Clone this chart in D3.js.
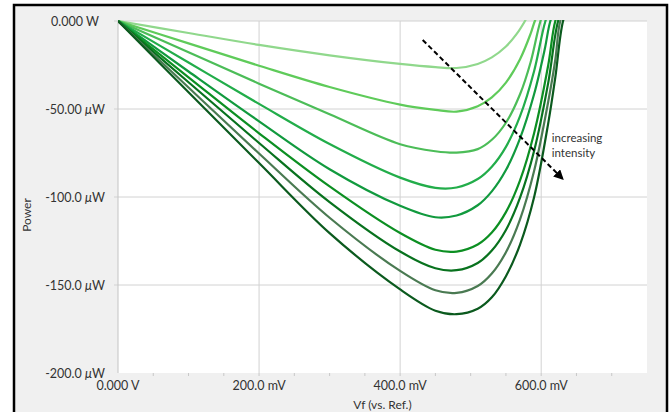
<!DOCTYPE html>
<html>
<head>
<meta charset="utf-8">
<script src="https://cdn.jsdelivr.net/npm/d3@7/dist/d3.min.js"></script>
<style>
  body { margin: 0; background: #fff; }
  text { font-family: Lato, "DejaVu Sans", sans-serif; fill: #333; }
</style>
</head>
<body>
<svg id="chart" width="672" height="412"></svg>
<script>
// voltage (mV) sample points shared by every curve
var volts = [0, 100, 200, 300, 400, 450, 480, 510, 530, 550, 570, 590, 610];

// power (uW) for each light intensity, weakest to strongest, read at volts[]
var p1 = [0, -6.8, -13.6, -19.5, -24.4, -26.2, -26.7, -24.4, -20.7, -14.5];
var p2 = [0, -12.7, -25.4, -37.5, -47.5, -50.5, -51.5, -48.4, -43.4, -35, -21.7];
var p3 = [0, -17.8, -35.6, -53, -70, -74, -74.8, -72.8, -67.5, -57.8, -41.6];
var p4 = [0, -23.6, -47.1, -69.9, -89, -94.8, -94.6, -89.8, -82.8, -71.5, -54.1, -28.4];
var p5 = [0, -28.7, -57, -84.2, -105, -111.5, -110.5, -104.7, -96.8, -84.7, -66.7, -41.5];
var p6 = [0, -32, -63.8, -94, -120.5, -130, -131, -127, -120.2, -108.6, -90.5, -63.6, -25];
var p7 = [0, -34.8, -69.3, -102.9, -131, -140.5, -141.6, -137.5, -130.4, -118.7, -100.4, -73.7, -35];
var p8 = [0, -37.8, -75.3, -111.8, -142, -153, -154.5, -150.6, -143.5, -131.4, -112.7, -85.1, -45.7];
var p9 = [0, -40.5, -80.7, -120.5, -152.5, -164.6, -166.6, -163.5, -157, -145, -127, -100, -58];
// end of each curve past its last shared volt value: [mV, uW] pairs
var tails = [
  [[565, -7.5], [577, 0], [590, 10]],
  [[585, -7.2], [591, 0], [605, 12]],
  [[585, -23.4], [599, 0], [612, 14]],
  [[606, 0], [620, 15]],
  [[605, -16.1], [613, 0], [625, 12]],
  [[620, 0], [632, 12]],
  [[624, 0], [636, 12]],
  [[620, -22], [627, 0], [640, 13]],
  [[620, -32], [631, 0], [643, 13]]
];
var series = [p1, p2, p3, p4, p5, p6, p7, p8, p9];
var colors = ["#90d88c", "#5fcb5a", "#4cbd58", "#22ad4a", "#119a3e", "#0c8f22", "#08721e", "#4a7a52", "#0b5a1e"];

var xTicks = [0, 200, 400, 600];
var xTickLabels = ["0.000 V", "200.0 mV", "400.0 mV", "600.0 mV"];
var yTicks = [0, -50, -100, -150, -200];
var yTickLabels = [["0.000 W", ""], ["-50.00 ", "W"], ["-100.0 ", "W"], ["-150.0 ", "W"], ["-200.0 ", "W"]];

var svg = d3.select("#chart");

// outer panel
svg.append("rect")
  .attr("x", 14).attr("y", 5)
  .attr("width", 653).attr("height", 420)
  .attr("fill", "#f0f0f0")
  .attr("stroke", "#000")
  .attr("stroke-width", 2.5);

var x = d3.scaleLinear().domain([0, 750]).range([118, 647]);
var y = d3.scaleLinear().domain([-200, 0]).range([373, 21]);

// white plotting area
svg.append("rect")
  .attr("x", x(0)).attr("y", y(0))
  .attr("width", x(750) - x(0)).attr("height", y(-200) - y(0))
  .attr("fill", "#fff");

svg.append("clipPath").attr("id", "plotClip")
  .append("rect")
  .attr("x", x(0)).attr("y", y(0) - 1)
  .attr("width", x(750) - x(0)).attr("height", y(-200) - y(0) + 1);

// grid lines
svg.append("g").selectAll("line")
  .data(xTicks.slice(1))
  .enter().append("line")
  .attr("x1", d => x(d)).attr("x2", d => x(d))
  .attr("y1", y(0)).attr("y2", y(-200))
  .attr("stroke", "#d2d2d2").attr("stroke-width", 1);

svg.append("g").selectAll("line")
  .data(yTicks.slice(0, 4))
  .enter().append("line")
  .attr("x1", x(0) - 4).attr("x2", x(750))
  .attr("y1", d => y(d)).attr("y2", d => y(d))
  .attr("stroke", "#d2d2d2").attr("stroke-width", 1);

// left axis line
svg.append("line")
  .attr("x1", x(0)).attr("x2", x(0))
  .attr("y1", y(0)).attr("y2", y(-200))
  .attr("stroke", "#c4c4c4");

// minor ticks along the bottom every 50 mV
svg.append("g").selectAll("line")
  .data(d3.range(50, 750, 50))
  .enter().append("line")
  .attr("x1", d => x(d)).attr("x2", d => x(d))
  .attr("y1", y(-200)).attr("y2", y(-200) + 3)
  .attr("stroke", "#c8c8c8");

// tick labels
svg.append("g").selectAll("text")
  .data(xTicks)
  .enter().append("text")
  .attr("x", d => x(d))
  .attr("y", y(-200) + 17)
  .attr("text-anchor", "middle")
  .attr("font-size", 12.5)
  .text((d, i) => xTickLabels[i]);

var yl = svg.append("g").selectAll("text")
  .data(yTicks)
  .enter().append("text")
  .attr("x", 75)
  .attr("y", d => y(d) + 4.5)
  .attr("text-anchor", "middle")
  .attr("font-size", 12.5);
yl.append("tspan").text((d, i) => yTickLabels[i][0]);
yl.filter((d, i) => yTickLabels[i][1] != "")
  .append("tspan").attr("font-style", "italic").text("\u03bc");
yl.append("tspan").text((d, i) => yTickLabels[i][1]);

// axis titles
svg.append("text")
  .attr("x", (x(0) + x(750)) / 2).attr("y", 409)
  .attr("text-anchor", "middle")
  .attr("font-size", 12)
  .text("Vf (vs. Ref.)");

svg.append("text")
  .attr("transform", "translate(31,215) rotate(-90)")
  .attr("text-anchor", "middle")
  .attr("font-size", 12)
  .text("Power");

// curves
var line = d3.line()
  .x(d => x(d[0]))
  .y(d => y(d[1]))
  .curve(d3.curveCatmullRom.alpha(0.5));

var curveData = series.map((vals, i) => {
  var pts = vals.map((v, j) => [volts[j], v]);
  return pts.concat(tails[i]);
});

svg.append("g")
  .attr("clip-path", "url(#plotClip)")
  .selectAll("path")
  .data(curveData)
  .enter().append("path")
  .attr("d", line)
  .attr("fill", "none")
  .attr("stroke", (d, i) => colors[i])
  .attr("stroke-width", 2.2)
  .attr("stroke-linejoin", "round");

// "increasing intensity" arrow
var arrowFrom = [432, -10.8];
var arrowTo = [630, -89.5];

svg.append("defs").append("marker")
  .attr("id", "head")
  .attr("viewBox", "0 0 10 10")
  .attr("refX", 8).attr("refY", 5)
  .attr("markerWidth", 5).attr("markerHeight", 5)
  .attr("orient", "auto")
  .append("path")
  .attr("d", "M0,0 L10,5 L0,10 Z")
  .attr("fill", "#000");

svg.append("line")
  .attr("x1", x(arrowFrom[0])).attr("y1", y(arrowFrom[1]))
  .attr("x2", x(arrowTo[0])).attr("y2", y(arrowTo[1]))
  .attr("stroke", "#000")
  .attr("stroke-width", 2)
  .attr("stroke-dasharray", "5,3")
  .attr("marker-end", "url(#head)");

var note = svg.append("text")
  .attr("font-size", 11.5)
  .attr("fill", "#444");
note.append("tspan").attr("x", x(615)).attr("y", y(-68.5)).text("increasing");
note.append("tspan").attr("x", x(615)).attr("y", y(-77.5)).text("intensity");
</script>
</body>
</html>
